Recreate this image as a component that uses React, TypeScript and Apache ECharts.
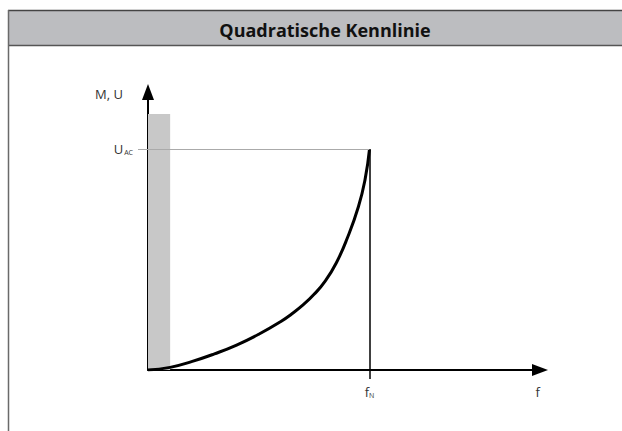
import React, { useEffect, useRef } from "react";
import * as echarts from "echarts";

const titleText = "Quadratische Kennlinie";
const yAxisName = "M, U";
const xAxisName = "f";
const curveX = [0, 10, 20, 30, 40, 50, 60, 65, 70, 75, 80, 85, 90, 95, 98, 100];
const curveY = [0, 1.2, 3.9, 7.3, 11.3, 16.2, 22.0, 25.5, 29.5, 34.3, 40.3, 48.5, 59.8, 74.0, 86.3, 100];
const nominalF = 100; // f_N
const nominalU = 100; // U_AC
const boostWidth = 10; // gray band width
const boostHeight = 116; // gray band height
const xMax = 177;
const yMax = 126;
const xNamePos = 176;
const yNamePos = 125;

const FONT = "'Open Sans', 'Noto Sans', sans-serif";

export default function App() {
  const ref = useRef<HTMLDivElement>(null);
  useEffect(() => {
    if (!ref.current) return;
    const chart = echarts.init(ref.current, undefined, { renderer: "svg" });
    const data = curveX.map((x, i) => [x, curveY[i]]);
    chart.setOption({
      animation: false,
      backgroundColor: "#ffffff",
      title: {
        text: titleText,
        left: 320,
        top: 16,
        textAlign: "center",
        textStyle: { fontFamily: FONT, fontWeight: "bold", fontSize: 18, color: "#111" },
      },
      graphic: [
        { type: "rect", shape: { x: 8, y: 10, width: 614, height: 36 }, style: { fill: "#bcbdc0" }, z: -10 },
        { type: "line", shape: { x1: 8, y1: 10.5, x2: 622, y2: 10.5 }, style: { stroke: "#444", lineWidth: 1.5 } },
        { type: "line", shape: { x1: 8, y1: 45.5, x2: 622, y2: 45.5 }, style: { stroke: "#555", lineWidth: 1.5 } },
        { type: "line", shape: { x1: 8.5, y1: 10, x2: 8.5, y2: 431 }, style: { stroke: "#6a6a6a", lineWidth: 1.5 } },
      ],
      grid: { left: 148, right: 622 - 540, top: 92, bottom: 61, containLabel: false },
      xAxis: {
        type: "value",
        min: 0,
        max: xMax,
        splitLine: { show: false },
        axisLine: {
          onZero: false,
          lineStyle: { color: "#000", width: 2 },
          symbol: ["none", "triangle"],
          symbolSize: [12, 16],
        },
        axisTick: { show: true, customValues: [nominalF], length: 9, lineStyle: { color: "#000", width: 1.5 } },
        axisLabel: {
          customValues: [nominalF, xNamePos],
          margin: 15,
          color: "#333",
          formatter: (v: number) => (v === nominalF ? "{m|f}{s|N}" : "{m|" + xAxisName + "}"),
          rich: {
            m: { fontFamily: FONT, fontSize: 13, color: "#333" },
            s: { fontFamily: FONT, fontSize: 7, color: "#333", verticalAlign: "bottom", padding: [7, 0, 0, 0] },
          },
        },
      },
      yAxis: {
        type: "value",
        min: 0,
        max: yMax,
        splitLine: { show: false },
        axisLine: {
          onZero: false,
          lineStyle: { color: "#000", width: 2 },
          symbol: ["none", "triangle"],
          symbolSize: [12, 16],
        },
        axisTick: { show: true, customValues: [nominalU], length: 10, lineStyle: { color: "#aaa", width: 1 } },
        axisLabel: {
          customValues: [nominalU, yNamePos],
          margin: 15,
          color: "#333",
          formatter: (v: number) => (v === nominalU ? "{m|U}{s|AC}" : "{n|" + yAxisName + "}"),
          rich: {
            m: { fontFamily: FONT, fontSize: 13, color: "#333" },
            n: { fontFamily: FONT, fontSize: 13, color: "#333", padding: [0, 10, 0, 0] },
            s: { fontFamily: FONT, fontSize: 7, color: "#333", verticalAlign: "bottom", padding: [7, 0, 0, 1] },
          },
        },
      },
      series: [
        {
          type: "line",
          data,
          smooth: 0.5,
          symbol: "none",
          lineStyle: { color: "#000", width: 3 },
          z: 3,
          markArea: {
            silent: true,
            itemStyle: { color: "#c8c8c8" },
            data: [[{ coord: [0, 0] }, { coord: [boostWidth, boostHeight] }]],
          },
          markLine: {
            silent: true,
            symbol: "none",
            label: { show: false },
            data: [
              [
                { coord: [0, nominalU], lineStyle: { color: "#aaa", width: 1, type: "solid" } },
                { coord: [nominalF, nominalU] },
              ],
              [
                { coord: [nominalF, 0], lineStyle: { color: "#000", width: 1.5, type: "solid" } },
                { coord: [nominalF, nominalU] },
              ],
            ],
          },
        },
      ],
    });
    return () => chart.dispose();
  }, []);
  return <div ref={ref} style={{ position: "fixed", left: 0, top: 0, width: 622, height: 431 }} />;
}
